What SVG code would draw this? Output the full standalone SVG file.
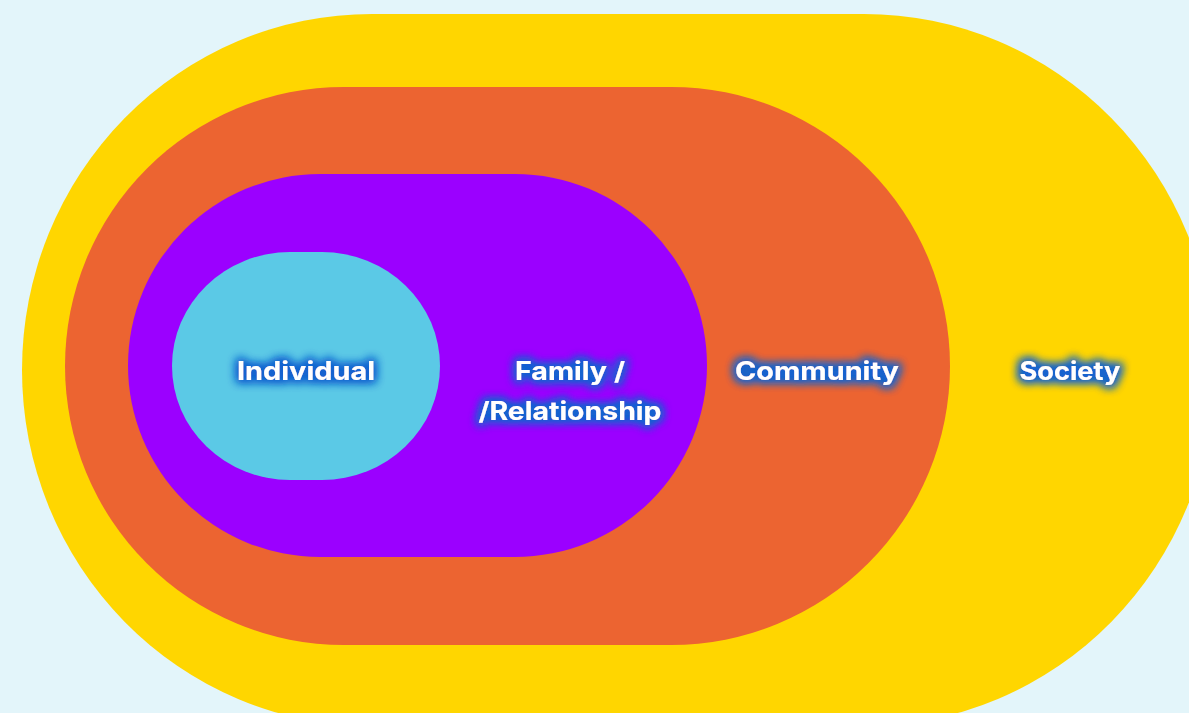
<svg xmlns="http://www.w3.org/2000/svg" width="1189" height="713" viewBox="0 0 1189 713">
<style>
.lbl{font-family:Inter,"Open Sans","Liberation Sans",sans-serif;font-weight:700;font-size:25px;fill:#ffffff;text-anchor:middle;filter:url(#glow)}
</style>
<defs>
<filter id="glow" x="-30%" y="-70%" width="160%" height="240%">
<feMorphology in="SourceAlpha" operator="dilate" radius="2" result="d"/>
<feGaussianBlur in="d" stdDeviation="5" result="b"/>
<feFlood flood-color="#1463d0" flood-opacity="1"/>
<feComposite in2="b" operator="in" result="g"/>
<feMerge><feMergeNode in="g"/><feMergeNode in="g"/><feMergeNode in="SourceGraphic"/></feMerge>
</filter>
</defs>
<rect width="1189" height="713" fill="#e3f5fa"/>
<g id="society">
<rect x="22" y="14" width="1192" height="712" rx="350" ry="356" fill="#ffd600"/>
<text class="lbl" x="1070" y="380" textLength="101" lengthAdjust="spacingAndGlyphs">Society</text>
</g>
<g id="community">
<rect x="65" y="87" width="885" height="558" rx="279" ry="279" fill="#ec6431"/>
<text class="lbl" x="817" y="380" textLength="164" lengthAdjust="spacingAndGlyphs">Community</text>
</g>
<g id="family">
<rect x="128" y="174" width="579" height="383" rx="192" ry="192" fill="#9b00ff"/>
<text class="lbl" x="570" y="380" textLength="110" lengthAdjust="spacingAndGlyphs">Family /</text>
<text class="lbl" x="570" y="420" textLength="183" lengthAdjust="spacingAndGlyphs">/Relationship</text>
</g>
<g id="individual">
<rect x="172" y="252" width="268" height="228" rx="118" ry="114" fill="#5bc9e6"/>
<text class="lbl" x="306" y="380" textLength="138" lengthAdjust="spacingAndGlyphs">Individual</text>
</g>
</svg>
